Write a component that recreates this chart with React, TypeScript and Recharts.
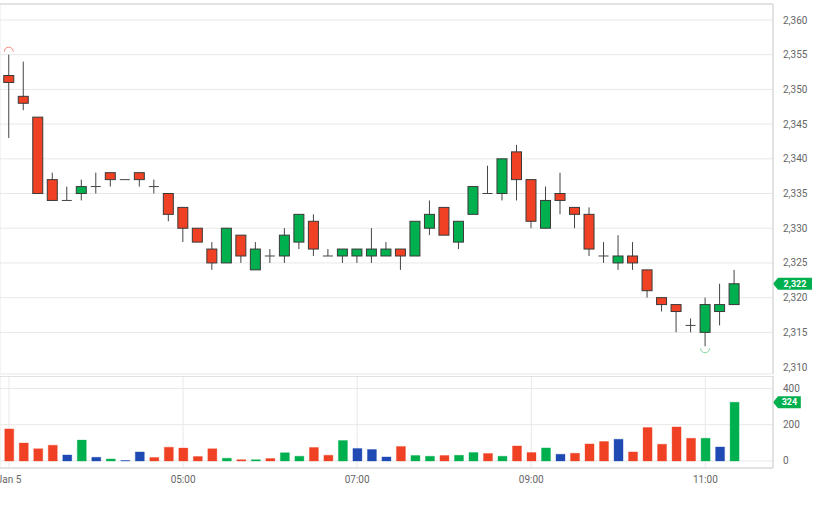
import { BarChart, Bar, XAxis, YAxis, CartesianGrid, ReferenceLine, Cell } from "recharts"

// 10-minute candles, Jan 5
const times = [
  "03:00", "03:10", "03:20", "03:30", "03:40", "03:50",
  "04:00", "04:10", "04:20", "04:30", "04:40", "04:50",
  "05:00", "05:10", "05:20", "05:30", "05:40", "05:50",
  "06:00", "06:10", "06:20", "06:30", "06:40", "06:50",
  "07:00", "07:10", "07:20", "07:30", "07:40", "07:50",
  "08:00", "08:10", "08:20", "08:30", "08:40", "08:50",
  "09:00", "09:10", "09:20", "09:30", "09:40", "09:50",
  "10:00", "10:10", "10:20", "10:30", "10:40", "10:50",
  "11:00", "11:10", "11:20",
]

const opens = [
  2352, 2349, 2346, 2337, 2334, 2335, 2336, 2338, 2337, 2338, 2336, 2335, 2333, 2330, 2327, 2325, 2329,
  2324, 2326, 2326, 2328, 2331, 2326, 2326, 2326, 2326, 2326, 2327, 2326, 2330, 2333, 2328, 2332, 2335,
  2335, 2341, 2337, 2330, 2335, 2333, 2332, 2326, 2325, 2326, 2324, 2320, 2319, 2316, 2315, 2318, 2319,
]
const highs = [
  2355, 2354, 2346, 2338, 2336, 2337, 2338, 2338, 2337, 2338, 2337, 2335, 2333, 2330, 2328, 2330, 2329,
  2328, 2327, 2330, 2332, 2332, 2327, 2327, 2327, 2330, 2328, 2327, 2331, 2334, 2333, 2331, 2336, 2339,
  2340, 2342, 2337, 2336, 2338, 2333, 2333, 2328, 2329, 2328, 2324, 2320, 2319, 2317, 2320, 2322, 2324,
]
const lows = [
  2343, 2347, 2335, 2334, 2334, 2334, 2335, 2336, 2337, 2336, 2335, 2331, 2328, 2328, 2324, 2325, 2325,
  2324, 2325, 2325, 2327, 2326, 2326, 2325, 2325, 2325, 2326, 2324, 2326, 2329, 2329, 2327, 2332, 2335,
  2334, 2334, 2330, 2330, 2332, 2330, 2326, 2325, 2324, 2324, 2320, 2318, 2315, 2315, 2313, 2316, 2319,
]
const closes = [
  2351, 2348, 2335, 2334, 2334, 2336, 2336, 2337, 2337, 2337, 2336, 2332, 2330, 2328, 2325, 2330, 2326,
  2327, 2326, 2329, 2332, 2327, 2326, 2327, 2327, 2327, 2327, 2326, 2331, 2332, 2329, 2331, 2336, 2335,
  2340, 2337, 2331, 2334, 2334, 2332, 2327, 2326, 2326, 2325, 2321, 2319, 2318, 2316, 2319, 2319, 2322,
]
const volumes = [
  177, 99, 67, 87, 33, 115, 20, 11, 2, 50, 19, 76, 71, 24, 67, 15, 7,
  7, 13, 45, 26, 74, 32, 113, 69, 63, 22, 80, 30, 26, 30, 31, 46, 41,
  26, 83, 46, 72, 37, 42, 94, 107, 120, 50, 184, 92, 188, 125, 125, 77, 324,
]

const xTicks = ["03:00", "05:00", "07:00", "09:00", "11:00"]
const xTickLabels = ["Jan 5", "05:00", "07:00", "09:00", "11:00"]
const priceTicks = [2310, 2315, 2320, 2325, 2330, 2335, 2340, 2345, 2350, 2355, 2360]
const volumeTicks = [0, 200, 400]

const RED = "#f04124"
const GREEN = "#00b04f"
const BLUE = "#1f4ab4"
const GRID = "#e8e8e8"
const BORDER = "#d2d2d2"
const TEXT = "#666"

const candles = times.map((t, i) => ({
  t,
  open: opens[i],
  high: highs[i],
  low: lows[i],
  close: closes[i],
  volume: volumes[i],
}))

const maxHigh = Math.max(...highs)
const minLow = Math.min(...lows)
const lastClose = closes[closes.length - 1]
const lastVolume = volumes[volumes.length - 1]

// volume colour follows close vs previous close
const volumeColor = (i: number) => {
  const prev = i > 0 ? closes[i - 1] : opens[i]
  if (closes[i] > prev) return GREEN
  if (closes[i] < prev) return RED
  return BLUE
}

const xPadding = { left: 1.75, right: 31.4 }

function Candle(props: any) {
  const { x, y, width, height, payload } = props
  const { open, high, low, close } = payload
  const top = Math.min(y, y + height)
  const h = Math.abs(height)
  const cx = x + width / 2
  const toY = (v: number) => (high === low ? top : top + ((high - v) / (high - low)) * h)
  const yo = toY(open)
  const yc = toY(close)
  const r = 4.5
  return (
    <g>
      {high !== low && <line x1={cx} x2={cx} y1={top} y2={top + h} stroke="#444" strokeWidth={1} />}
      {open === close ? (
        <line x1={x} x2={x + width} y1={yo} y2={yo} stroke="#444" strokeWidth={1} />
      ) : (
        <rect
          x={x}
          y={Math.min(yo, yc)}
          width={width}
          height={Math.abs(yc - yo)}
          fill={close > open ? GREEN : RED}
          stroke="#3a3a3a"
          strokeWidth={1}
        />
      )}
      {high === maxHigh && payload.t === times[highs.indexOf(maxHigh)] && (
        <path
          d={`M ${cx - r} ${top - 3} A ${r} ${r} 0 0 1 ${cx + r} ${top - 3}`}
          fill="none"
          stroke="#f58a78"
          strokeWidth={1}
        />
      )}
      {low === minLow && payload.t === times[lows.indexOf(minLow)] && (
        <path
          d={`M ${cx - r} ${top + h + 2} A ${r} ${r} 0 0 0 ${cx + r} ${top + h + 2}`}
          fill="none"
          stroke="#7fd6a2"
          strokeWidth={1}
        />
      )}
    </g>
  )
}

function Tag({ viewBox, text }: any) {
  if (!viewBox) return null
  const x0 = viewBox.x + viewBox.width
  const cy = viewBox.y
  const w = text.length * 5.6 + 6
  return (
    <g>
      <path
        d={`M ${x0} ${cy} L ${x0 + 5} ${cy - 6} L ${x0 + 5 + w} ${cy - 6} L ${x0 + 5 + w} ${cy + 6} L ${x0 + 5} ${cy + 6} Z`}
        fill={GREEN}
      />
      <text
        x={x0 + 5 + w / 2}
        y={cy}
        dy="0.35em"
        textAnchor="middle"
        fill="#fff"
        fontSize={9}
        fontWeight="bold"
      >
        {text}
      </text>
    </g>
  )
}

export default function App() {
  return (
    <div
      style={{
        position: "absolute",
        left: 0,
        top: 0,
        width: 822,
        height: 505,
        background: "#fff",
        fontFamily: "Roboto, sans-serif",
      }}
    >
      <BarChart
        width={822}
        height={376}
        data={candles}
        margin={{ top: 4, right: 0, bottom: 2, left: 0 }}
        barCategoryGap={0}
      >
        <CartesianGrid stroke={GRID} />
        <XAxis
          dataKey="t"
          ticks={xTicks}
          interval={0}
          tick={false}
          tickLine={false}
          axisLine={{ stroke: BORDER }}
          height={0}
          padding={xPadding}
        />
        <YAxis
          orientation="right"
          width={49}
          domain={[2309, 2362.3]}
          ticks={priceTicks}
          allowDataOverflow
          tickLine={false}
          tickMargin={4}
          axisLine={{ stroke: BORDER }}
          tick={{ fill: TEXT, fontSize: 10 }}
          tickFormatter={(v: number) => v.toLocaleString("en-US")}
        />
        <ReferenceLine y={2362.3} stroke={BORDER} />
        <Bar
          dataKey={(d: any) => [d.low, d.high]}
          barSize={10}
          shape={<Candle />}
          isAnimationActive={false}
        />
        <ReferenceLine
          y={lastClose}
          stroke="none"
          label={(p: any) => <Tag viewBox={p.viewBox} text={lastClose.toLocaleString("en-US")} />}
        />
      </BarChart>
      <div style={{ position: "absolute", left: 0, top: 376 }}>
        <BarChart
          width={822}
          height={129}
          data={candles}
          margin={{ top: 0, right: 0, bottom: 0, left: 0 }}
        >
          <CartesianGrid stroke={GRID} />
          <XAxis
            dataKey="t"
            ticks={xTicks}
            interval={0}
            tickLine={false}
            axisLine={{ stroke: BORDER }}
            height={37}
            padding={xPadding}
            tick={{ fill: TEXT, fontSize: 10 }}
            tickFormatter={(v: string) => xTickLabels[xTicks.indexOf(v)] ?? v}
          />
          <YAxis
            orientation="right"
            width={49}
            domain={[-39, 469]}
            ticks={volumeTicks}
            allowDataOverflow
            tickLine={false}
            tickMargin={4}
            axisLine={{ stroke: BORDER }}
            tick={{ fill: TEXT, fontSize: 10 }}
          />
          <ReferenceLine y={469} stroke={BORDER} />
          <Bar dataKey="volume" barSize={9} isAnimationActive={false}>
            {candles.map((_, i) => (
              <Cell key={i} fill={volumeColor(i)} stroke={volumeColor(i)} strokeOpacity={0.35} />
            ))}
          </Bar>
          <ReferenceLine
            y={lastVolume}
            stroke="none"
            label={(p: any) => <Tag viewBox={p.viewBox} text={String(lastVolume)} />}
          />
        </BarChart>
      </div>
    </div>
  )
}
